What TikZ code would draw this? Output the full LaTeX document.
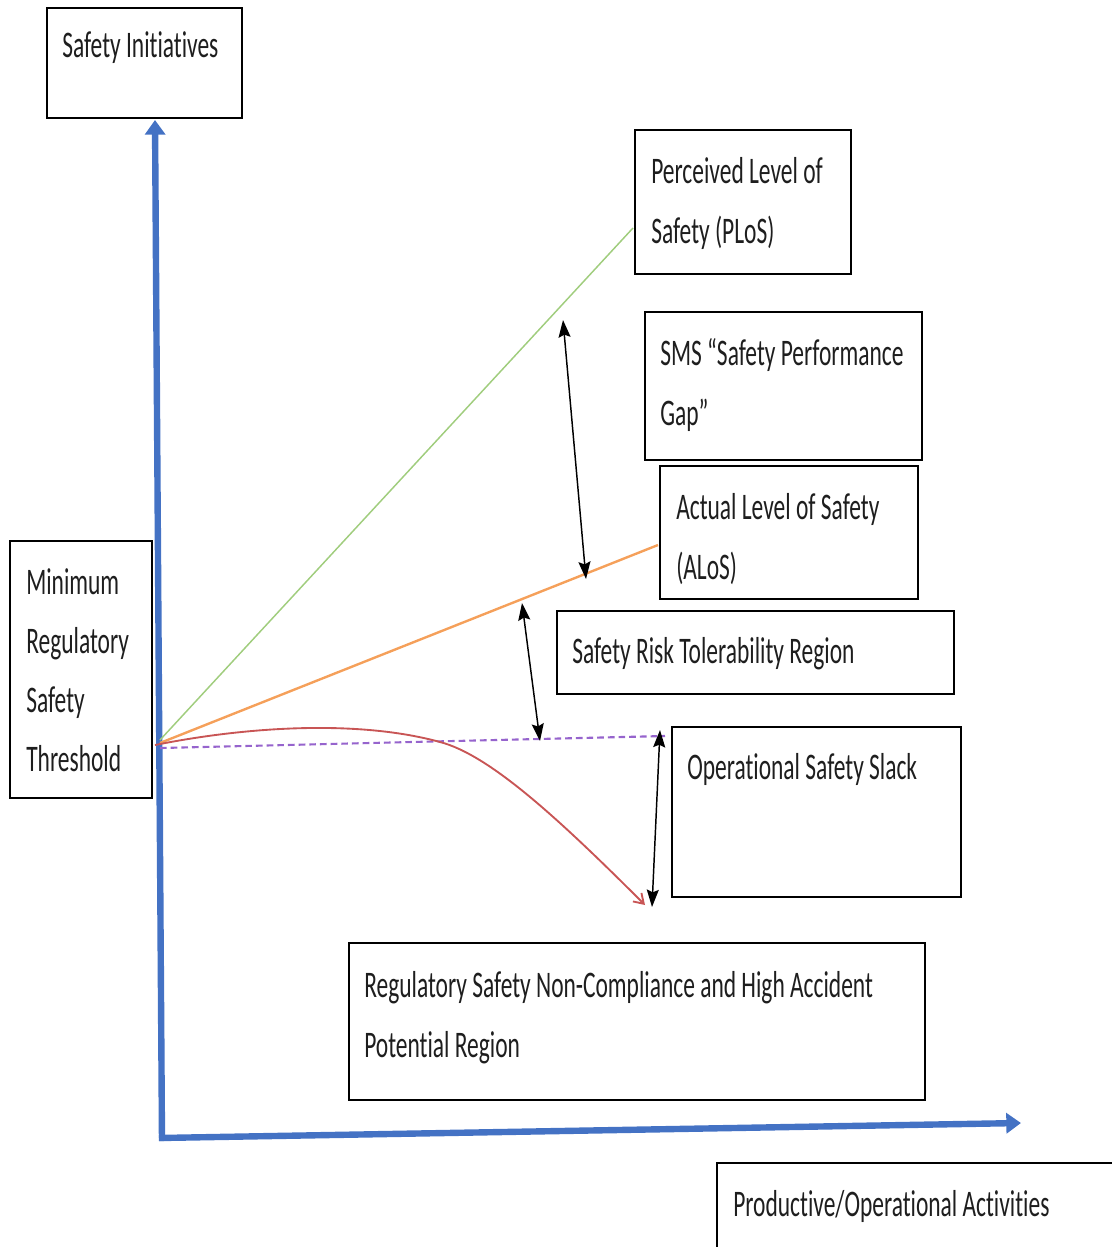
\documentclass[tikz,border=0pt]{standalone}
\usepackage{graphicx}
\usepackage{fontspec}
\setmainfont{Carlito}[RawFeature={-liga,-dlig,-clig}]
\usetikzlibrary{arrows.meta,fit}

\definecolor{axisblue}{RGB}{68,114,196}
\definecolor{plosgreen}{RGB}{160,205,125}
\definecolor{alosorange}{RGB}{245,160,90}
\definecolor{slackpurple}{RGB}{150,100,205}
\definecolor{riskred}{RGB}{200,85,85}
\definecolor{inkgray}{RGB}{30,30,30}

% tall, narrow lettering
\newcommand{\tall}[1]{\scalebox{1}[1.6]{#1}}

\tikzset{
  box/.style={draw=black, line width=1.6pt, inner sep=0pt},
  txt/.style={anchor=base west, inner sep=0pt, text=inkgray,
              font=\fontsize{17.6}{20}\selectfont},
  axis/.style={draw=axisblue, line width=4.8pt,
               -{Triangle[length=11pt,width=15pt]}},
  gap/.style={draw=black, line width=1.1pt,
              {Stealth[length=13pt,width=9pt,inset=2pt]}-{Stealth[length=13pt,width=9pt,inset=2pt]}},
}

\begin{document}
\begin{tikzpicture}[x=0.75pt,y=-0.75pt]
\useasboundingbox (0,0) rectangle (1112,1247);
\clip (0,0) rectangle (1112,1247);

% ---- boxes ----
\node[box, fit={(47,8) (242,118)}]     (init) {};
\node[box, fit={(635,130) (851,274)}]  (plos) {};
\node[box, fit={(645,312) (922,460)}]  (gap)  {};
\node[box, fit={(660,466) (918,599)}]  (alos) {};
\node[box, fit={(557,611) (954,694)}]  (tol)  {};
\node[box, fit={(672,727) (961,897)}]  (slack) {};
\node[box, fit={(349,943) (925,1100)}] (noncomp) {};
\node[box, fit={(10,541) (152,798)}]   (minreg) {};
\node[box, fit={(717,1163) (1130,1265)}] (prod) {};

% ---- labels ----
\node[txt] (l1)  at (62,57)   {\tall{Safety Initiatives}};
\node[txt] (l2a) at (651,183) {\tall{Perceived Level of}};
\node[txt] (l2b) at (651,243) {\tall{Safety (PLoS)}};
\node[txt] (l3a) at (660,365) {\tall{SMS “Safety Performance}};
\node[txt] (l3b) at (660,425) {\tall{Gap”}};
\node[txt] (l4a) at (676,519) {\tall{Actual Level of Safety}};
\node[txt] (l4b) at (676,579) {\tall{(ALoS)}};
\node[txt] (l5)  at (572,663) {\tall{Safety Risk Tolerability Region}};
\node[txt] (l6)  at (687,779) {\tall{Operational Safety Slack}};
\node[txt] (l7a) at (364,997) {\tall{Regulatory Safety Non-Compliance and High Accident}};
\node[txt] (l7b) at (364,1057){\tall{Potential Region}};
\node[txt] (l8a) at (26,594)  {\tall{Minimum}};
\node[txt] (l8b) at (26,653)  {\tall{Regulatory}};
\node[txt] (l8c) at (26,712)  {\tall{Safety}};
\node[txt] (l8d) at (26,771)  {\tall{Threshold}};
\node[txt] (l9)  at (733,1216){\tall{Productive/Operational Activities}};

% ---- axes ----
\coordinate (ybot) at (162,1141);
\coordinate (ytop) at (155,120);
\coordinate (xleft) at (159,1138);
\coordinate (xright) at (1021,1123);
\draw[axis] (ybot) -- (ytop);
\draw[axis] (xleft) -- (xright);

% ---- safety levels from the threshold ----
\coordinate (o1) at (160,740);
\coordinate (o2) at (160,743);
\coordinate (o3) at (160,748);
\coordinate (o4) at (155,745);
\coordinate (plosend) at (633,228);
\coordinate (alosend) at (658,545);
\coordinate (slackend) at (665,736);
\coordinate (riskmid) at (440,742);
\coordinate (riskend) at (645,905);

\draw[plosgreen, line width=1.1pt] (o1) -- (plosend);
\draw[alosorange, line width=1.8pt] (o2) -- (alosend);
\draw[slackpurple, line width=1.6pt, dash pattern=on 5pt off 3pt] (o3) -- (slackend);
\draw[riskred, line width=1.4pt, -{Straight Barb[length=7pt,width=9pt]}]
  (o4) .. controls (250,726) and (360,720) .. (riskmid)
       .. controls (490,755) and (560,820) .. (riskend);

% ---- gap arrows ----
\coordinate (g1a) at (563,320);
\coordinate (g1b) at (586,579);
\coordinate (g2a) at (522,603);
\coordinate (g2b) at (540,741);
\coordinate (g3a) at (660,730);
\coordinate (g3b) at (652,907);
\draw[gap] (g1a) -- (g1b);
\draw[gap] (g2a) -- (g2b);
\draw[gap] (g3a) -- (g3b);
\end{tikzpicture}
\end{document}
